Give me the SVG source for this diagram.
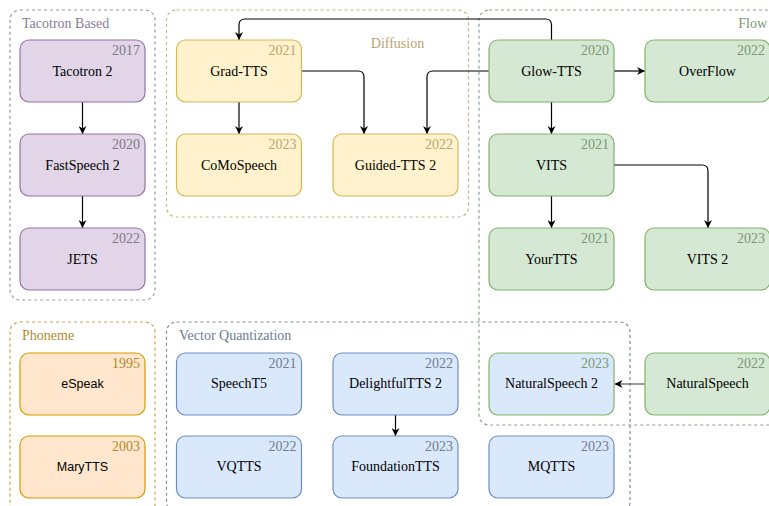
<svg xmlns="http://www.w3.org/2000/svg" width="769" height="506" viewBox="0 0 769 506">
<style>
.grp{fill:none;stroke-width:1.2;stroke-dasharray:3 3}
.n{stroke-width:1.2}
.lbl{font-family:'Liberation Serif','Times New Roman',Times,'DejaVu Serif',serif;font-size:14px;fill:#000;text-anchor:middle}
.sans{font-family:'Liberation Sans',Arial,Helvetica,sans-serif;font-size:12.5px;fill:#000;text-anchor:middle}
.yr{font-family:'Liberation Serif','Times New Roman',Times,'DejaVu Serif',serif;font-size:14px;text-anchor:end}
.gl{font-family:'Liberation Serif','Times New Roman',Times,'DejaVu Serif',serif;font-size:14px}
.purple{fill:#e1d5e7;stroke:#9673a6}
.yellow{fill:#fff2cc;stroke:#d6b656}
.green{fill:#d5e8d4;stroke:#82b366}
.blue{fill:#dae8fc;stroke:#6c8ebf}
.orange{fill:#ffe6cc;stroke:#d79b00}
.edge{fill:none;stroke:#000;stroke-width:1.2;marker-end:url(#arr)}
</style>
<defs>
<marker id="arr" viewBox="0 0 10 10" refX="10" refY="5" markerWidth="8" markerHeight="8" markerUnits="userSpaceOnUse" orient="auto">
<path d="M0,0 L10,5 L0,10 L3,5 z" fill="#000"/>
</marker>
</defs>
<rect width="769" height="506" fill="#fff"/>
<g id="groups">
<g id="g-tacotron"><rect class="grp" x="10" y="10" width="145" height="290" rx="10" stroke="#9a9a9a"/><text class="gl" x="22" y="28" fill="#8a7d96">Tacotron Based</text></g>
<g id="g-diffusion"><rect class="grp" x="166.5" y="10" width="302" height="207" rx="10" stroke="#c8b57e"/><text class="gl" x="397.5" y="48" fill="#b9a56d" text-anchor="middle">Diffusion</text></g>
<g id="g-flow"><rect class="grp" x="479" y="10" width="310" height="415" rx="10" stroke="#8ca388"/><text class="gl" x="767" y="28" fill="#7e9676" text-anchor="end">Flow</text></g>
<g id="g-phoneme"><rect class="grp" x="10" y="322" width="145" height="200" rx="10" stroke="#c9a24a"/><text class="gl" x="22" y="340" fill="#b08a2e">Phoneme</text></g>
<g id="g-vq"><rect class="grp" x="166.5" y="322" width="463.5" height="190" rx="10" stroke="#7f8ba3"/><text class="gl" x="179" y="340" fill="#6f7b92">Vector Quantization</text></g>
</g>
<g id="connectors">
<path class="edge" d="M82.5,102 V134"/>
<path class="edge" d="M82.5,196 V228"/>
<path class="edge" d="M239,102 V134"/>
<path class="edge" d="M301.5,71 H358 Q364,71 364,77 V134"/>
<path class="edge" d="M489,71 H433 Q427,71 427,77 V134"/>
<path class="edge" d="M551.5,40 V25 Q551.5,19 545.5,19 H245 Q239,19 239,25 V40"/>
<path class="edge" d="M614,71 H645"/>
<path class="edge" d="M551.5,102 V134"/>
<path class="edge" d="M551.5,196 V228"/>
<path class="edge" d="M614,165 H702 Q708,165 708,171 V228"/>
<path class="edge" d="M395.5,415 V436"/>
<path class="edge" d="M645,384 H614.5" style="stroke:#555"/>
</g>
<g id="tacotron2"><rect class="n purple" x="20" y="40" width="125" height="62" rx="9"/><text class="yr" x="140" y="55" fill="#80778a">2017</text><text class="lbl" x="82.5" y="76">Tacotron 2</text></g>
<g id="fastspeech2"><rect class="n purple" x="20" y="134" width="125" height="62" rx="9"/><text class="yr" x="140" y="149" fill="#80778a">2020</text><text class="lbl" x="82.5" y="170">FastSpeech 2</text></g>
<g id="jets"><rect class="n purple" x="20" y="228" width="125" height="62" rx="9"/><text class="yr" x="140" y="243" fill="#80778a">2022</text><text class="lbl" x="82.5" y="264">JETS</text></g>
<g id="gradtts"><rect class="n yellow" x="176.5" y="40" width="125" height="62" rx="9"/><text class="yr" x="296.5" y="55" fill="#b9a56d">2021</text><text class="lbl" x="239" y="76">Grad-TTS</text></g>
<g id="comospeech"><rect class="n yellow" x="176.5" y="134" width="125" height="62" rx="9"/><text class="yr" x="296.5" y="149" fill="#b9a56d">2023</text><text class="lbl" x="239" y="170">CoMoSpeech</text></g>
<g id="guidedtts2"><rect class="n yellow" x="333" y="134" width="125" height="62" rx="9"/><text class="yr" x="453" y="149" fill="#b9a56d">2022</text><text class="lbl" x="395.5" y="170">Guided-TTS 2</text></g>
<g id="glowtts"><rect class="n green" x="489" y="40" width="125" height="62" rx="9"/><text class="yr" x="609" y="55" fill="#7b9774">2020</text><text class="lbl" x="551.5" y="76">Glow-TTS</text></g>
<g id="overflow"><rect class="n green" x="645" y="40" width="125" height="62" rx="9"/><text class="yr" x="765" y="55" fill="#7b9774">2022</text><text class="lbl" x="707.5" y="76">OverFlow</text></g>
<g id="vits"><rect class="n green" x="489" y="134" width="125" height="62" rx="9"/><text class="yr" x="609" y="149" fill="#7b9774">2021</text><text class="lbl" x="551.5" y="170">VITS</text></g>
<g id="yourtts"><rect class="n green" x="489" y="228" width="125" height="62" rx="9"/><text class="yr" x="609" y="243" fill="#7b9774">2021</text><text class="lbl" x="551.5" y="264">YourTTS</text></g>
<g id="vits2"><rect class="n green" x="645" y="228" width="125" height="62" rx="9"/><text class="yr" x="765" y="243" fill="#7b9774">2023</text><text class="lbl" x="707.5" y="264">VITS 2</text></g>
<g id="espeak"><rect class="n orange" x="20" y="353" width="125" height="62" rx="9"/><text class="yr" x="140" y="368" fill="#b08a2e">1995</text><text class="sans" x="82.5" y="388">eSpeak</text></g>
<g id="marytts"><rect class="n orange" x="20" y="436" width="125" height="62" rx="9"/><text class="yr" x="140" y="451" fill="#b08a2e">2003</text><text class="sans" x="82.5" y="471">MaryTTS</text></g>
<g id="speecht5"><rect class="n blue" x="176.5" y="353" width="125" height="62" rx="9"/><text class="yr" x="296.5" y="368" fill="#6f7b92">2021</text><text class="lbl" x="239" y="388">SpeechT5</text></g>
<g id="vqtts"><rect class="n blue" x="176.5" y="436" width="125" height="62" rx="9"/><text class="yr" x="296.5" y="451" fill="#6f7b92">2022</text><text class="lbl" x="239" y="471">VQTTS</text></g>
<g id="delightfultts2"><rect class="n blue" x="333" y="353" width="125" height="62" rx="9"/><text class="yr" x="453" y="368" fill="#6f7b92">2022</text><text class="lbl" x="395.5" y="388">DelightfulTTS 2</text></g>
<g id="foundationtts"><rect class="n blue" x="333" y="436" width="125" height="62" rx="9"/><text class="yr" x="453" y="451" fill="#6f7b92">2023</text><text class="lbl" x="395.5" y="471">FoundationTTS</text></g>
<g id="naturalspeech2"><rect class="n" x="489" y="353" width="125" height="62" rx="9" fill="#dae8fc" stroke="#82b366"/><text class="yr" x="609" y="368" fill="#7b9774">2023</text><text class="lbl" x="551.5" y="388">NaturalSpeech 2</text></g>
<g id="mqtts"><rect class="n blue" x="489" y="436" width="125" height="62" rx="9"/><text class="yr" x="609" y="451" fill="#6f7b92">2023</text><text class="lbl" x="551.5" y="471">MQTTS</text></g>
<g id="naturalspeech"><rect class="n green" x="645" y="353" width="125" height="62" rx="9"/><text class="yr" x="765" y="368" fill="#7b9774">2022</text><text class="lbl" x="707.5" y="388">NaturalSpeech</text></g>
</svg>
